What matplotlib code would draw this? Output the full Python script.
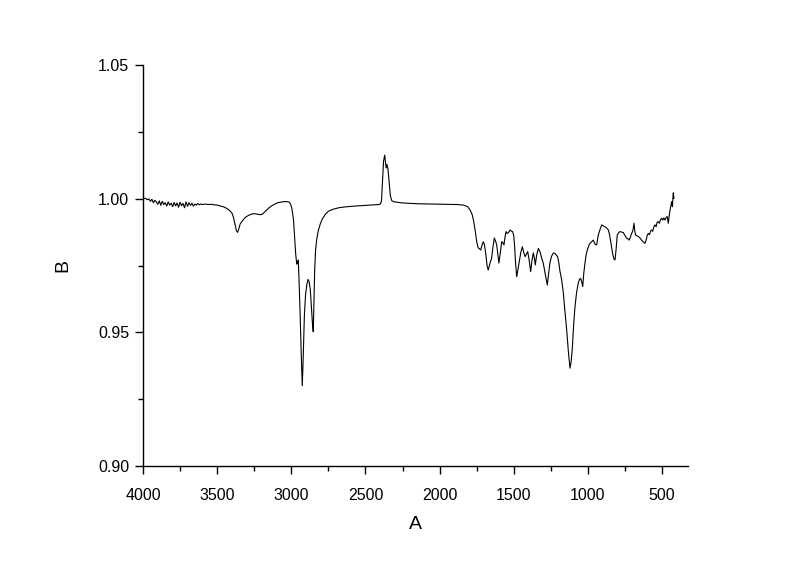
import matplotlib
matplotlib.use("Agg")
import matplotlib.pyplot as plt
from matplotlib.ticker import MultipleLocator, FormatStrFormatter

plt.rcParams['font.family'] = ['Liberation Sans', 'DejaVu Sans']

wavenumber = [
    4000, 3990, 3980, 3970, 3960, 3950, 3940, 3930, 3920, 3910, 3900, 3890, 3880, 3870, 3860,
    3850, 3840, 3830, 3820, 3810, 3800, 3790, 3780, 3770, 3760, 3750, 3740, 3730, 3720, 3710,
    3700, 3690, 3680, 3670, 3660, 3650, 3640, 3630, 3620, 3610, 3600, 3580, 3560, 3540, 3520,
    3500, 3480, 3460, 3440, 3420, 3400, 3390, 3380, 3370, 3362, 3355, 3345, 3330, 3310, 3290,
    3270, 3250, 3230, 3210, 3195, 3180, 3165, 3150, 3130, 3110, 3090, 3070, 3050, 3030, 3015,
    3005, 2995, 2985, 2978, 2970, 2963, 2958, 2953, 2948, 2940, 2933, 2926, 2920, 2912, 2904,
    2895, 2887, 2880, 2872, 2865, 2857, 2852, 2847, 2842, 2836, 2828, 2818, 2805, 2790, 2770,
    2750, 2720, 2680, 2640, 2580, 2520, 2460, 2410, 2400, 2392, 2384, 2378, 2370, 2364, 2360,
    2355, 2348, 2340, 2332, 2322, 2305, 2250, 2150, 2050, 1950, 1880, 1840, 1810, 1795, 1780,
    1770, 1760, 1750, 1740, 1730, 1723, 1712, 1705, 1698, 1690, 1680, 1672, 1662, 1649, 1640,
    1631, 1622, 1615, 1607, 1600, 1590, 1581, 1573, 1566, 1558, 1552, 1545, 1537, 1530, 1524,
    1515, 1508, 1500, 1494, 1488, 1480, 1470, 1462, 1452, 1442, 1433, 1424, 1415, 1406, 1396,
    1386, 1377, 1368, 1360, 1355, 1345, 1334, 1322, 1312, 1301, 1288, 1274, 1265, 1256, 1245,
    1232, 1222, 1212, 1204, 1196, 1188, 1178, 1166, 1155, 1143, 1132, 1121, 1113, 1105, 1096,
    1087, 1076, 1065, 1057, 1049, 1042, 1035, 1028, 1020, 1012, 1004, 990, 975, 964, 952,
    941, 930, 918, 907, 896, 885, 873, 862, 854, 846, 835, 825, 817, 810, 802,
    793, 784, 772, 761, 750, 739, 730, 721, 713, 705, 697, 689, 684, 678, 670,
    660, 652, 645, 638, 630, 622, 615, 608, 600, 593, 585, 578, 570, 563, 555,
    548, 540, 533, 526, 518, 510, 503, 495, 488, 480, 472, 465, 458, 452, 446,
    440, 435, 430, 426, 424, 420,
]

transmittance = [
    1.0003, 1.0001, 1.0000, 0.9996, 0.9999, 0.9990, 0.9998, 0.9985, 0.9994, 0.9988, 0.9979, 0.9992, 0.9975, 0.9990, 0.9978,
    0.9985, 0.9972, 0.9988, 0.9976, 0.9983, 0.9970, 0.9986, 0.9973, 0.9984, 0.9968, 0.9987, 0.9974, 0.9982, 0.9966, 0.9988,
    0.9971, 0.9985, 0.9975, 0.9983, 0.9972, 0.9980, 0.9976, 0.9982, 0.9977, 0.9980, 0.9978, 0.9980, 0.9978, 0.9979, 0.9977,
    0.9976, 0.9973, 0.9970, 0.9965, 0.9958, 0.9946, 0.9930, 0.9905, 0.9880, 0.9874, 0.9885, 0.9905, 0.9917, 0.9930, 0.9937,
    0.9942, 0.9944, 0.9942, 0.9940, 0.9942, 0.9950, 0.9958, 0.9966, 0.9974, 0.9980, 0.9985, 0.9987, 0.9989, 0.9989, 0.9987,
    0.9980, 0.9960, 0.9920, 0.9860, 0.9790, 0.9755, 0.9760, 0.9770, 0.9700, 0.9560, 0.9420, 0.9300, 0.9400, 0.9560, 0.9640,
    0.9680, 0.9698, 0.9690, 0.9660, 0.9600, 0.9530, 0.9502, 0.9620, 0.9740, 0.9810, 0.9850, 0.9880, 0.9905, 0.9925, 0.9942,
    0.9953, 0.9960, 0.9966, 0.9969, 0.9972, 0.9974, 0.9976, 0.9978, 0.9980, 0.9990, 1.0080, 1.0140, 1.0163, 1.0130, 1.0115,
    1.0128, 1.0110, 1.0060, 1.0010, 0.9992, 0.9988, 0.9984, 0.9981, 0.9980, 0.9979, 0.9978, 0.9976, 0.9970, 0.9958, 0.9940,
    0.9915, 0.9880, 0.9840, 0.9816, 0.9812, 0.9808, 0.9830, 0.9839, 0.9828, 0.9800, 0.9750, 0.9733, 0.9755, 0.9778, 0.9820,
    0.9853, 0.9840, 0.9827, 0.9790, 0.9759, 0.9800, 0.9839, 0.9835, 0.9827, 0.9860, 0.9877, 0.9870, 0.9872, 0.9878, 0.9883,
    0.9878, 0.9877, 0.9862, 0.9820, 0.9760, 0.9708, 0.9740, 0.9764, 0.9800, 0.9820, 0.9800, 0.9783, 0.9792, 0.9802, 0.9770,
    0.9727, 0.9770, 0.9797, 0.9775, 0.9752, 0.9790, 0.9814, 0.9800, 0.9778, 0.9759, 0.9720, 0.9677, 0.9720, 0.9760, 0.9785,
    0.9797, 0.9795, 0.9788, 0.9783, 0.9760, 0.9727, 0.9700, 0.9650, 0.9580, 0.9509, 0.9430, 0.9366, 0.9390, 0.9440, 0.9530,
    0.9596, 0.9650, 0.9684, 0.9698, 0.9702, 0.9690, 0.9671, 0.9720, 0.9758, 0.9790, 0.9808, 0.9830, 0.9839, 0.9845, 0.9830,
    0.9827, 0.9864, 0.9885, 0.9902, 0.9898, 0.9895, 0.9890, 0.9883, 0.9865, 0.9839, 0.9800, 0.9775, 0.9771, 0.9810, 0.9864,
    0.9872, 0.9877, 0.9875, 0.9873, 0.9862, 0.9852, 0.9850, 0.9845, 0.9858, 0.9870, 0.9880, 0.9908, 0.9880, 0.9864, 0.9862,
    0.9858, 0.9855, 0.9850, 0.9845, 0.9840, 0.9836, 0.9833, 0.9845, 0.9862, 0.9870, 0.9865, 0.9878, 0.9883, 0.9878, 0.9895,
    0.9902, 0.9895, 0.9912, 0.9914, 0.9908, 0.9922, 0.9927, 0.9920, 0.9928, 0.9920, 0.9930, 0.9933, 0.9908, 0.9935, 0.9958,
    0.9975, 0.9989, 0.9970, 1.0010, 1.0022, 1.0001,
]

x_label = "A"
y_label = "B"

fig = plt.figure(figsize=(8.0, 5.61), dpi=100)
ax = fig.add_axes([143 / 800, 1 - 466 / 561, (688 - 143) / 800, (466 - 65) / 561])

ax.plot(wavenumber, transmittance, color="black", linewidth=0.8)

ax.set_xlim(4000, 325)
ax.set_ylim(0.90, 1.05)

ax.xaxis.set_major_locator(MultipleLocator(500))
ax.xaxis.set_minor_locator(MultipleLocator(250))
ax.yaxis.set_major_locator(MultipleLocator(0.05))
ax.yaxis.set_minor_locator(MultipleLocator(0.025))
ax.yaxis.set_major_formatter(FormatStrFormatter("%.2f"))

for side in ("top", "right"):
    ax.spines[side].set_visible(False)
for side in ("left", "bottom"):
    ax.spines[side].set_linewidth(1.0)

ax.tick_params(axis="both", which="major", direction="out", length=6, width=1.0,
               labelsize=11.5, pad=4)
ax.tick_params(axis="x", which="major", pad=10)
ax.tick_params(axis="both", which="minor", direction="out", length=3.5, width=1.0)

ax.set_xlabel(x_label, fontsize=14, labelpad=9)
ax.set_ylabel(y_label, fontsize=14, labelpad=19)

fig.savefig("out.png", dpi=100, facecolor="white")
